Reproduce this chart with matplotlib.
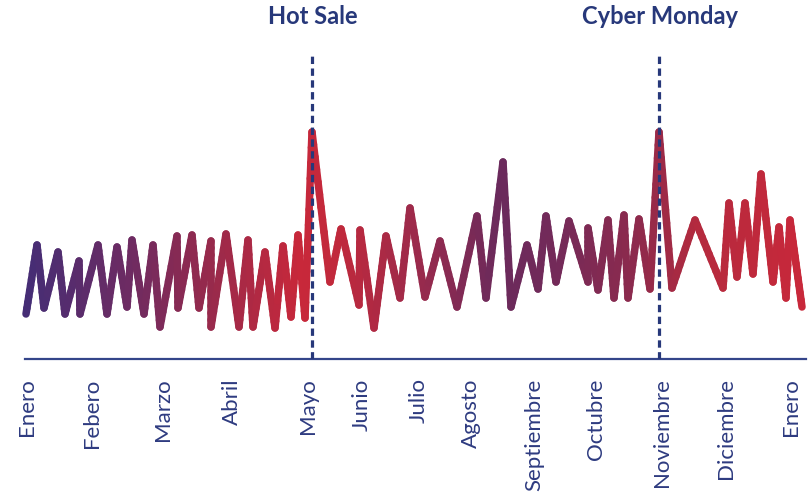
"""Zigzag sales line with event markers (Hot Sale, Cyber Monday)."""
import matplotlib
matplotlib.use("Agg")
import matplotlib.pyplot as plt
import numpy as np
from matplotlib.collections import LineCollection
from matplotlib.colors import LinearSegmentedColormap

# position along the year (chart units) and value of each vertex
pos = [26, 37, 44, 58, 65, 79, 80, 98, 107, 117, 127, 132, 144, 153, 160,
       177, 178, 192, 199, 211, 211, 226, 239, 248, 253, 265, 275, 283, 291,
       298, 305, 312, 330, 341, 359, 360, 374, 386, 400, 410, 425, 440, 457,
       477, 486, 503, 511, 527, 538, 546, 556, 569, 588, 588, 598, 608, 614,
       624, 628, 639, 650, 659, 672, 695, 723, 729, 737, 745, 753, 761, 773,
       779, 786, 790, 802]
values = [45, 114, 51, 107, 45, 98, 45, 114, 45, 112, 52, 119, 45, 114, 32,
          123, 51, 124, 51, 118, 32, 125, 32, 119, 32, 107, 31, 113, 42,
          124, 41, 227, 77, 130, 54, 129, 31, 123, 61, 151, 62, 118, 52,
          143, 61, 197, 52, 114, 70, 143, 77, 138, 77, 131, 69, 139, 61,
          144, 61, 140, 70, 227, 71, 139, 71, 156, 82, 156, 85, 185, 77,
          132, 61, 139, 52]

months = ["Enero", "Febero", "Marzo", "Abril", "Mayo", "Junio", "Julio",
          "Agosto", "Septiembre", "Octubre", "Noviembre", "Diciembre", "Enero"]
month_pos = [27, 92, 163, 232, 308, 362, 419, 471, 534, 596, 662, 726, 791]

events = ["Hot Sale", "Cyber Monday"]
event_pos = [312, 659]

NAVY = "#27387a"

# colour along the x direction
grad_x = [0, 130, 200, 300, 340, 420, 500, 560, 640, 700, 808]
grad_c = ["#3b2e7a", "#6e2b62", "#922a4e", "#c8283a", "#c0293c", "#9a2a4c",
          "#6a2a5c", "#742a59", "#8e2a4c", "#b42a3e", "#c9283a"]
cmap = LinearSegmentedColormap.from_list(
    "grad", [(x / 808, c) for x, c in zip(grad_x, grad_c)])

fig = plt.figure(figsize=(8.08, 4.95), dpi=100)
ax = fig.add_axes([0, 1 - 359 / 495, 1, 359 / 495])
ax.set_xlim(0, 808)
ax.set_ylim(0, 359)

# split each segment finely so the gradient looks smooth
px, py = [], []
for i in range(len(pos) - 1):
    t = np.linspace(0, 1, 12, endpoint=False)
    px.extend(pos[i] + (pos[i + 1] - pos[i]) * t)
    py.extend(values[i] + (values[i + 1] - values[i]) * t)
px.append(pos[-1]); py.append(values[-1])
pts = np.column_stack([px, py]).reshape(-1, 1, 2)
segs = np.concatenate([pts[:-1], pts[1:]], axis=1)
mid = (np.array(px[:-1]) + np.array(px[1:])) / 2
lc = LineCollection(segs, colors=cmap(mid / 808), linewidths=5.4,
                    capstyle="round", joinstyle="round", zorder=2)
ax.add_collection(lc)

for name, xp in zip(events, event_pos):
    ax.vlines(xp, 0, 304, colors=NAVY, linewidth=2.3,
              linestyles=(0, (2.3, 1.4)), zorder=3)
    ax.text(xp + 1, 342, name, ha="center", va="center", fontsize=17,
            fontweight="bold", color=NAVY, family="Lato")

for s in ["top", "left", "right"]:
    ax.spines[s].set_visible(False)
ax.spines["bottom"].set_color("#34458a")
ax.spines["bottom"].set_linewidth(1.6)
ax.spines["bottom"].set_bounds(25, 806)
ax.set_yticks([])
ax.set_xticks(month_pos, labels=months, rotation=90)
ax.tick_params(axis="x", length=0, pad=14, labelsize=16, labelcolor="#2e3b80")
for lab in ax.get_xticklabels():
    lab.set_family("Lato")

fig.savefig("out.png", dpi=100)
